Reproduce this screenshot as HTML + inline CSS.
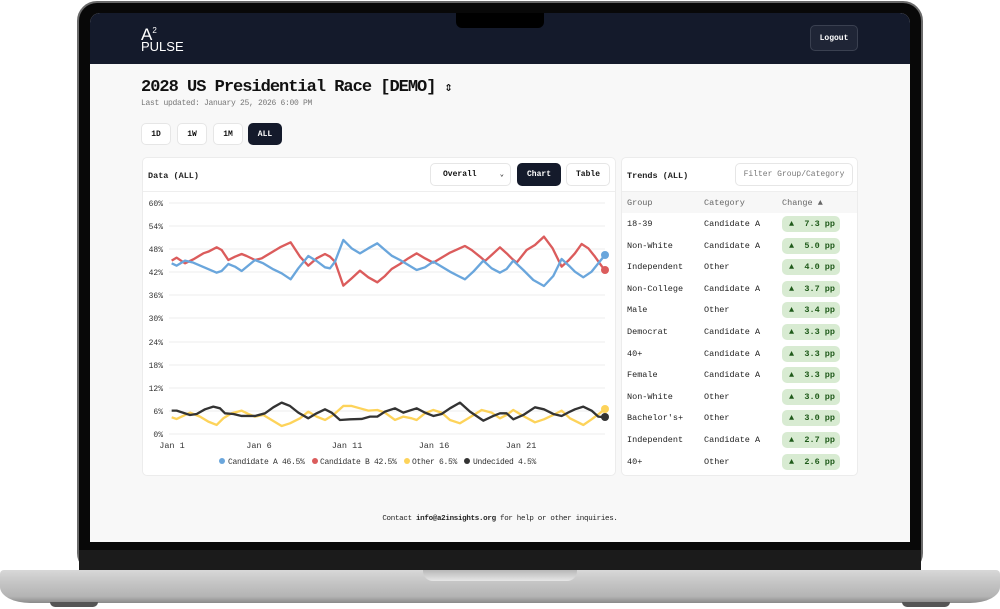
<!DOCTYPE html>
<html><head><meta charset="utf-8"><style>
*{margin:0;padding:0;box-sizing:border-box}
body{width:1000px;height:609px;background:#fff;position:relative;overflow:hidden;font-family:"Liberation Mono",monospace;}
.abs{position:absolute}
.lid{left:77px;top:1px;width:846px;height:572px;background:#080808;border-radius:20px;border:2px solid #6a6a6a;}
.screen{left:90px;top:13px;width:820px;height:529px;background:#f8f8f8;border-radius:10px 10px 0 0;overflow:hidden}
.hdr{left:0;top:0;width:820px;height:51px;background:#141a2b}
.notch{left:456px;top:13px;width:88px;height:15px;background:#000;border-radius:0 0 6px 6px}
.chin{left:79px;top:550px;width:842px;height:20px;background:#1b1b1b}
.base{left:0;top:570px;width:1000px;height:33px;background:linear-gradient(#d8d8d8,#c4c4c4 40%,#b4b4b4 80%,#8a8a8a);border-radius:4px 4px 30px 30px/4px 4px 16px 16px}
.bnotch{left:423px;top:570px;width:154px;height:11px;background:linear-gradient(#b8b8b8,#e6e6e6);border-radius:0 0 10px 10px}
.foot{top:602px;width:48px;height:5px;background:#555;border-radius:0 0 6px 6px}
.btn{position:absolute;height:22px;border:1px solid #e6e6e6;background:#fff;border-radius:5px;font-size:8px;font-weight:bold;display:flex;align-items:center;justify-content:center;color:#111}
.dark{background:#141a2b;color:#fff;border-color:#141a2b}
.card{position:absolute;background:#fff;border:1px solid #ececec;border-radius:5px}
.t{position:absolute;font-size:8.5px;color:#222;white-space:nowrap}
.badge{position:absolute;left:160px;width:58px;height:16px;background:#d8ebd2;border-radius:5px;color:#1f5a1a;font-size:8.5px;font-weight:bold;line-height:16px;padding:0 5px 0 7px;display:flex;justify-content:space-between}
</style></head><body>
<div class="abs lid"></div>
<div class="abs screen">
 <div class="abs hdr">
  <div class="abs" style="left:51px;top:9px;color:#fff;font-family:'Liberation Sans',sans-serif;font-size:17px;line-height:17px">A<sup style="font-size:8px;vertical-align:7px">2</sup></div>
  <div class="abs" style="left:51px;top:27px;color:#fff;font-family:'Liberation Sans',sans-serif;font-size:13px;line-height:13px">PULSE</div>
  <div class="btn" style="left:720px;top:12px;width:48px;height:26px;background:#1f2536;border-color:#3a4050;color:#fff">Logout</div>
 </div>
</div>
<div class="abs notch"></div>
<div class="abs" style="left:141px;top:78px;font-size:17px;font-weight:bold;letter-spacing:-1px;color:#111">2028 US Presidential Race [DEMO] <span style="font-size:13px">⇕</span></div>
<div class="abs" style="left:141px;top:99px;font-size:8px;letter-spacing:-0.3px;color:#777">Last updated: January 25, 2026 6:00 PM</div>
<div class="btn" style="left:141px;top:123px;width:30px">1D</div>
<div class="btn" style="left:177px;top:123px;width:30px">1W</div>
<div class="btn" style="left:213px;top:123px;width:30px">1M</div>
<div class="btn dark" style="left:248px;top:123px;width:34px">ALL</div>

<div class="card" style="left:142px;top:157px;width:474px;height:319px">
 <div class="abs" style="left:0;top:33px;width:472px;border-top:1px solid #eee"></div>
 <div class="t" style="left:5px;top:13px;font-weight:bold">Data (ALL)</div>
</div>
<div class="btn" style="left:430px;top:163px;width:81px;height:23px;justify-content:flex-start;padding-left:12px">Overall<span style="position:absolute;right:6px;font-size:7px">⌄</span></div>
<div class="btn dark" style="left:517px;top:163px;width:44px;height:23px">Chart</div>
<div class="btn" style="left:566px;top:163px;width:44px;height:23px">Table</div>

<svg class="abs" style="left:0;top:0" width="1000" height="609">
 <g font-family="Liberation Mono,monospace" font-size="8" fill="#333" text-anchor="end">
  <text x="163" y="206">60%</text><text x="163" y="229">54%</text><text x="163" y="252">48%</text><text x="163" y="275">42%</text><text x="163" y="298">36%</text><text x="163" y="321">30%</text><text x="163" y="345">24%</text><text x="163" y="368">18%</text><text x="163" y="391">12%</text><text x="163" y="414">6%</text><text x="163" y="437">0%</text>
 </g>
 <g stroke="#eeeeee" stroke-width="1">
  <line x1="169" x2="605" y1="203" y2="203"/><line x1="169" x2="605" y1="226" y2="226"/><line x1="169" x2="605" y1="249" y2="249"/><line x1="169" x2="605" y1="272" y2="272"/><line x1="169" x2="605" y1="295" y2="295"/><line x1="169" x2="605" y1="318" y2="318"/><line x1="169" x2="605" y1="342" y2="342"/><line x1="169" x2="605" y1="365" y2="365"/><line x1="169" x2="605" y1="388" y2="388"/><line x1="169" x2="605" y1="411" y2="411"/><line x1="169" x2="605" y1="434" y2="434"/>
 </g>
 <g font-family="Liberation Mono,monospace" font-size="8.5" fill="#333" text-anchor="middle">
  <text x="172" y="448">Jan 1</text><text x="259" y="448">Jan 6</text><text x="347" y="448">Jan 11</text><text x="434" y="448">Jan 16</text><text x="521" y="448">Jan 21</text>
 </g>
 <g transform="translate(140,190) scale(0.3333)" fill="none" stroke-width="7" stroke-linejoin="round">
  <polyline stroke="#db5c5c" points="95,212 110,203 135,220 160,208 190,190 205,185 230,172 245,180 265,210 285,200 305,192 320,198 345,210 365,205 390,190 420,172 452,157 480,200 505,227 530,205 555,192 570,200 585,215 610,287 635,265 660,242 685,262 712,277 735,258 755,237 780,222 805,205 830,190 855,205 880,218 905,203 930,188 955,177 975,168 995,180 1020,200 1035,213 1055,195 1080,172 1100,190 1115,205 1130,218 1160,180 1185,165 1212,140 1238,175 1265,230 1285,212 1305,190 1325,162 1345,175 1365,200 1395,242"/>
  <polyline stroke="#6aa6dc" points="95,220 110,227 135,212 160,218 195,233 230,248 245,243 265,222 285,230 305,243 345,210 370,220 400,238 425,250 452,268 475,235 505,198 530,213 555,232 570,235 585,215 610,150 635,175 660,190 685,175 712,160 735,180 755,197 780,210 805,225 830,240 855,232 880,215 905,230 930,245 955,258 975,268 1000,245 1030,212 1055,235 1080,248 1100,237 1120,212 1150,240 1180,270 1212,288 1240,258 1265,207 1290,230 1305,245 1330,262 1355,245 1395,195"/>
  <polyline stroke="#fdd35a" points="95,682 110,687 150,668 180,680 205,695 230,705 250,685 275,670 305,662 325,672 345,680 370,675 395,690 425,708 450,700 480,685 505,665 530,680 555,690 580,675 610,648 635,648 660,655 685,662 712,660 735,668 765,690 790,680 815,685 830,690 855,670 880,660 905,668 930,690 960,700 990,682 1025,660 1055,668 1080,685 1100,675 1120,660 1150,678 1185,697 1212,688 1240,675 1265,662 1290,685 1330,705 1355,688 1395,658"/>
  <polyline stroke="#333" points="95,662 110,662 150,675 170,672 195,658 220,650 240,655 255,670 280,672 305,678 345,678 375,670 400,652 425,638 450,648 475,668 505,685 530,670 555,658 575,668 600,690 630,688 665,687 690,680 712,680 735,665 765,655 790,668 830,655 855,668 880,678 905,672 930,655 960,638 990,665 1030,692 1060,678 1080,670 1100,670 1120,688 1150,675 1185,652 1212,658 1240,672 1265,678 1290,665 1305,658 1330,650 1355,662 1375,680 1395,682"/>
 </g>
 <circle cx="605" cy="255" r="4" fill="#6aa6dc"/>
 <circle cx="605" cy="270" r="4" fill="#db5c5c"/>
 <circle cx="605" cy="409" r="4" fill="#fdd35a"/>
 <circle cx="605" cy="417" r="4" fill="#333"/>
 <g font-family="Liberation Mono,monospace" font-size="8" fill="#333" letter-spacing="-0.3">
  <circle cx="222" cy="461" r="3" fill="#6aa6dc"/><text x="228" y="464">Candidate A 46.5%</text>
  <circle cx="315" cy="461" r="3" fill="#db5c5c"/><text x="320" y="464">Candidate B 42.5%</text>
  <circle cx="407" cy="461" r="3" fill="#fdd35a"/><text x="412" y="464">Other 6.5%</text>
  <circle cx="467" cy="461" r="3" fill="#333"/><text x="473" y="464">Undecided 4.5%</text>
 </g>
</svg>

<div class="card" style="left:621px;top:157px;width:237px;height:319px;overflow:hidden">
 <div class="t" style="left:5px;top:13px;font-weight:bold">Trends (ALL)</div>
 <div class="btn" style="left:113px;top:5px;width:118px;height:23px;color:#777;font-weight:normal">Filter Group/Category</div>
 <div class="abs" style="left:0;top:33px;width:237px;height:22px;background:#f7f7f7;border-top:1px solid #eee"></div>
 <div class="t" style="left:5px;top:40px;color:#666">Group</div>
 <div class="t" style="left:82px;top:40px;color:#666">Category</div>
 <div class="t" style="left:160px;top:40px;color:#666">Change ▲</div>
 <div class="t" style="left:5px;top:61px">18-39</div><div class="t" style="left:82px;top:61px">Candidate A</div><div class="badge" style="top:58px"><span>▲</span><span>7.3 pp</span></div>
 <div class="t" style="left:5px;top:83px">Non-White</div><div class="t" style="left:82px;top:83px">Candidate A</div><div class="badge" style="top:80px"><span>▲</span><span>5.0 pp</span></div>
 <div class="t" style="left:5px;top:104px">Independent</div><div class="t" style="left:82px;top:104px">Other</div><div class="badge" style="top:101px"><span>▲</span><span>4.0 pp</span></div>
 <div class="t" style="left:5px;top:126px">Non-College</div><div class="t" style="left:82px;top:126px">Candidate A</div><div class="badge" style="top:123px"><span>▲</span><span>3.7 pp</span></div>
 <div class="t" style="left:5px;top:147px">Male</div><div class="t" style="left:82px;top:147px">Other</div><div class="badge" style="top:144px"><span>▲</span><span>3.4 pp</span></div>
 <div class="t" style="left:5px;top:169px">Democrat</div><div class="t" style="left:82px;top:169px">Candidate A</div><div class="badge" style="top:166px"><span>▲</span><span>3.3 pp</span></div>
 <div class="t" style="left:5px;top:191px">40+</div><div class="t" style="left:82px;top:191px">Candidate A</div><div class="badge" style="top:188px"><span>▲</span><span>3.3 pp</span></div>
 <div class="t" style="left:5px;top:212px">Female</div><div class="t" style="left:82px;top:212px">Candidate A</div><div class="badge" style="top:209px"><span>▲</span><span>3.3 pp</span></div>
 <div class="t" style="left:5px;top:234px">Non-White</div><div class="t" style="left:82px;top:234px">Other</div><div class="badge" style="top:231px"><span>▲</span><span>3.0 pp</span></div>
 <div class="t" style="left:5px;top:255px">Bachelor's+</div><div class="t" style="left:82px;top:255px">Other</div><div class="badge" style="top:252px"><span>▲</span><span>3.0 pp</span></div>
 <div class="t" style="left:5px;top:277px">Independent</div><div class="t" style="left:82px;top:277px">Candidate A</div><div class="badge" style="top:274px"><span>▲</span><span>2.7 pp</span></div>
 <div class="t" style="left:5px;top:299px">40+</div><div class="t" style="left:82px;top:299px">Other</div><div class="badge" style="top:296px"><span>▲</span><span>2.6 pp</span></div>
 <div class="badge" style="top:317px"><span>▲</span><span>2.5 pp</span></div>
</div>

<div class="abs" style="left:0;width:1000px;top:515px;text-align:center;font-size:7.5px;color:#222;letter-spacing:-0.3px">Contact <b>info@a2insights.org</b> for help or other inquiries.</div>

<div class="abs chin"></div>
<div class="abs base"></div>
<div class="abs bnotch"></div>
<div class="abs foot" style="left:50px"></div>
<div class="abs foot" style="left:902px"></div>
</body></html>
